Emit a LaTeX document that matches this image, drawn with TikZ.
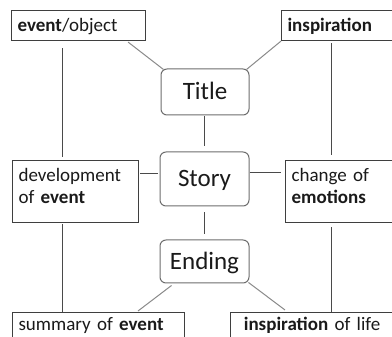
\documentclass[tikz,border=0pt]{standalone}
\usepackage{fontspec}
\setmainfont{Carlito}
\usetikzlibrary{calc}
\definecolor{boxline}{HTML}{3F3F3F}
\definecolor{rline}{HTML}{6E6E6E}
\definecolor{diag}{HTML}{8A8A8A}
\definecolor{vert}{HTML}{4A4A4A}
\definecolor{txt}{HTML}{1A1A1A}
\begin{document}
\begin{tikzpicture}[x=1pt,y=-1pt,
  sbox/.style={draw=boxline, line width=1.1pt, anchor=north west, inner xsep=6pt, inner ysep=0pt,
    align=left, font=\fontsize{19}{22}\selectfont, text=txt},
  rbox/.style={draw=rline, rounded corners=6pt, line width=1pt, inner sep=0pt,
    font=\fontsize{25}{30}\selectfont, text height=16pt, text depth=0pt, text=txt},
  gl/.style={draw=diag, line width=1pt},
  vl/.style={draw=vert, line width=1pt}]
\useasboundingbox[fill=white] (0,0) rectangle (392,337);

\node[sbox, text width=122pt, text height=21pt, text depth=9pt] (evobj) at (11,10) {\textbf{event}/object};
\node[sbox, text width=128pt, text height=21pt, text depth=9pt] (insp) at (281,10) {\textbf{inspiration}};
\node[sbox, text width=114pt, text height=21pt, text depth=41pt] (dev) at (12,160) {development\\of \textbf{event}};
\node[sbox, text width=128pt, text height=21pt, text depth=41pt] (change) at (285,160) {change of\\\textbf{emotions}};
\node[sbox, text width=160pt, text height=18pt, text depth=32pt] (summary) at (12,312) {summary of \textbf{event}};
\node[sbox, text width=151pt, text height=18pt, text depth=32pt, align=center] (inspl) at (230,312) {\textbf{inspiration} of life};

\node[rbox, minimum width=88pt, minimum height=46pt] (title) at (205,92) {Title};
\node[rbox, minimum width=89pt, minimum height=54pt] (story) at (204.5,179) {Story};
\node[rbox, minimum width=89pt, minimum height=43pt] (ending) at (204.5,261.5) {Ending};

\draw[gl] ($(evobj.south east)+(-18,1)$) -- ($(title.north west)+(3,1)$);
\draw[gl] (insp.south west) -- ($(title.north east)+(-3,1)$);
\draw[vl] ($(evobj.south west)+(51,7)$) -- ($(dev.north west)+(50,-3)$);
\draw[vl] ($(dev.south west)+(50,1)$) -- ($(summary.north west)+(50,0)$);
\draw[vl] ($(insp.south west)+(50,2)$) -- ($(change.north west)+(46,-5)$);
\draw[vl] ($(change.south west)+(46,4)$) -- ($(inspl.north west)+(101,0)$);
\draw[vl] ($(title.south)+(-1,1)$) -- ($(story.north)+(-0.5,-5)$);
\draw[vl] ($(story.south)+(0,6)$) -- ($(ending.north)+(0,-5)$);
\draw[vl] ($(dev.north east)+(1,14)$) -- ($(story.west)+(-2,-5)$);
\draw[vl] ($(story.east)+(0,-6)$) -- ($(change.north west)+(-4,13)$);
\draw[gl] ($(ending.south west)+(12,2)$) -- ($(summary.north west)+(126,-1)$);
\draw[gl] ($(ending.south east)+(-1,-1)$) -- ($(inspl.north west)+(55,-2)$);
\end{tikzpicture}
\end{document}
